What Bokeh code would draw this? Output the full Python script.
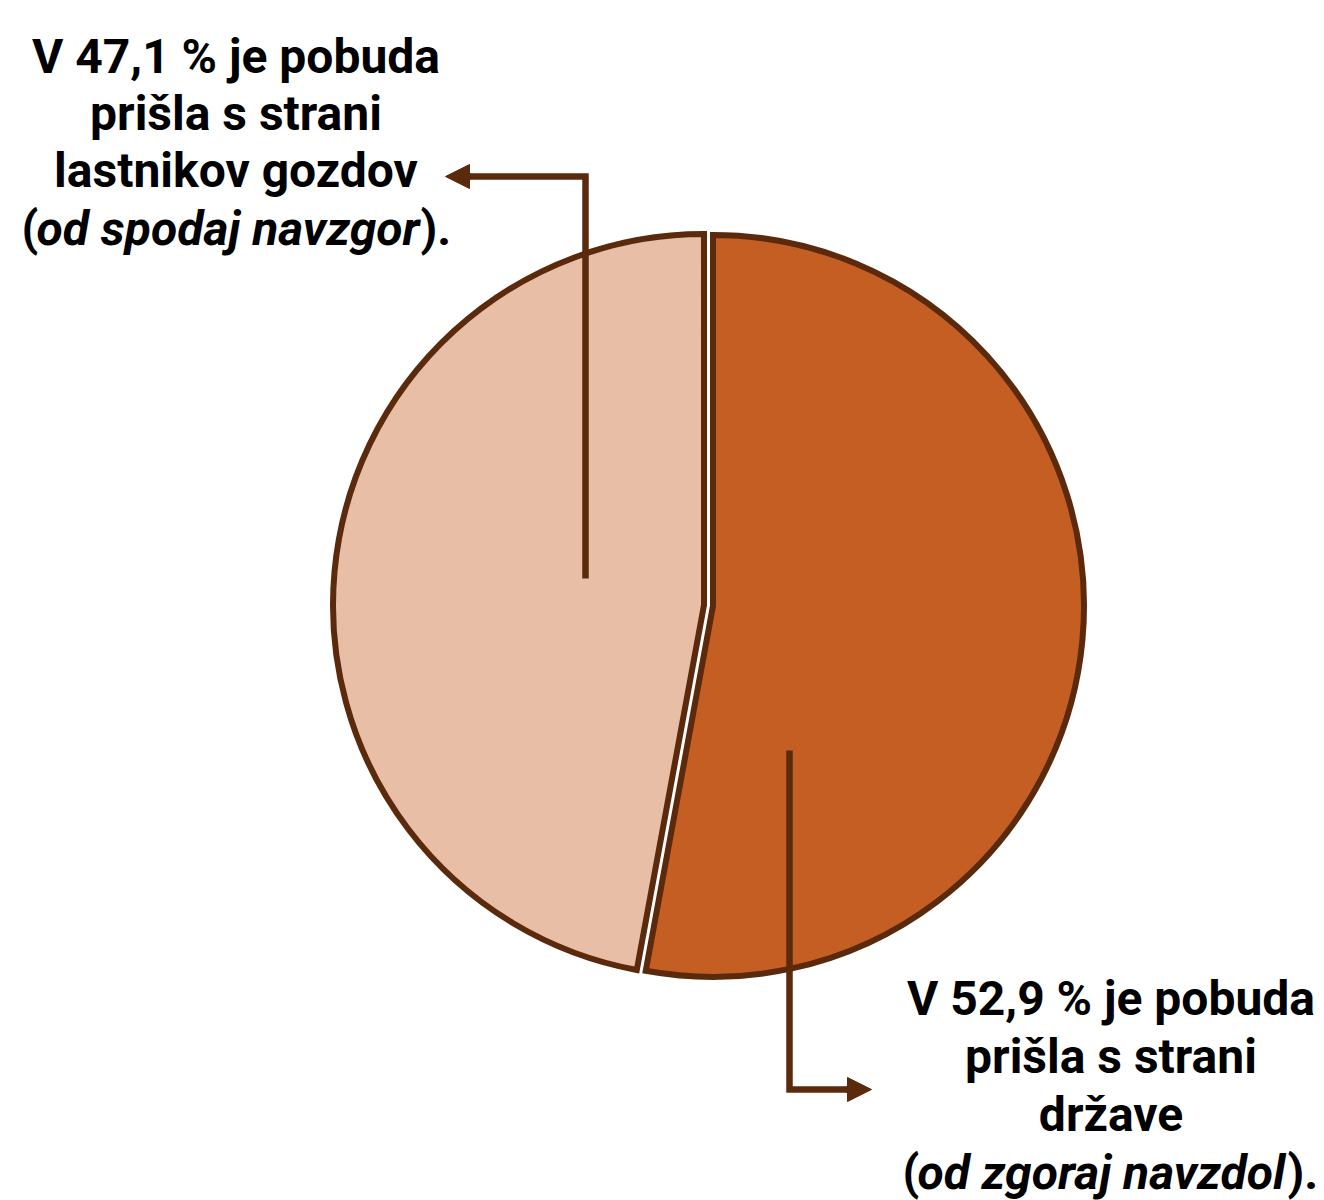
import math
from bokeh.plotting import figure
from bokeh.models import Range1d, Arrow, NormalHead
from bokeh.core.properties import value
from bokeh.embed import file_html
from bokeh.resources import INLINE

# ---- data ----
categories = ["država (od zgoraj navzdol)", "lastniki gozdov (od spodaj navzgor)"]
shares = [52.9, 47.1]
fill_colors = ["#C55E22", "#E8BEA6"]
label_state = ["prišla s strani", "države"]
label_owners = ["prišla s strani", "lastnikov gozdov"]
italic_state = "od zgoraj navzdol"
italic_owners = "od spodaj navzgor"

BROWN = "#5B2A0C"
W, H = 1324, 1200


def sx(x):  # picture x -> data x
    return x


def sy(y):  # picture y -> data y
    return H - y


p = figure(width=W, height=H, output_backend="svg", toolbar_location=None,
           x_range=Range1d(0, W), y_range=Range1d(0, H), min_border=0,
           x_axis_type=None, y_axis_type=None)
p.grid.visible = False
p.outline_line_color = None
p.background_fill_color = "white"

# ---- pie ----
cx, cy, R, explode = sx(708), sy(605), 371, 4.5
total = sum(shares)
start = 90.0
for share, col in zip(shares, fill_colors):
    sweep = 360.0 * share / total
    end = start - sweep
    mid = math.radians((start + end) / 2)
    ox, oy = explode * math.cos(mid), explode * math.sin(mid)
    p.wedge(x=[cx + ox], y=[cy + oy], radius=R, start_angle=start, end_angle=end,
            start_angle_units="deg", end_angle_units="deg", direction="clock",
            fill_color=col, line_color=BROWN, line_width=6, line_join="miter")
    start = end

# ---- leader arrows ----
LW = 6.5
p.line(x=[sx(585), sx(585), sx(460)], y=[sy(578), sy(176), sy(176)],
       line_color=BROWN, line_width=LW, line_join="miter", line_cap="butt")
p.add_layout(Arrow(end=NormalHead(size=24, fill_color=BROWN, line_color=BROWN, line_width=1),
                   x_start=sx(470), y_start=sy(176), x_end=sx(445), y_end=sy(176),
                   line_color=BROWN, line_width=LW))
p.line(x=[sx(789), sx(789), sx(855)], y=[sy(750), sy(1089), sy(1089)],
       line_color=BROWN, line_width=LW, line_join="miter", line_cap="butt")
p.add_layout(Arrow(end=NormalHead(size=24, fill_color=BROWN, line_color=BROWN, line_width=1),
                   x_start=sx(845), y_start=sy(1089), x_end=sx(871), y_end=sy(1089),
                   line_color=BROWN, line_width=LW))

# ---- labels ----
FS = "48px"
FONT = value("Roboto")
BASE_FIX = 17  # renderer places alphabetic baseline lower than requested


def pct(v):
    return f"{v:.1f}".replace(".", ",")


def block(center_x, baselines, lines, paren_x, italic_x, close_x, italic_text):
    for yb, t in zip(baselines, lines):
        p.text(x=[sx(center_x)], y=[sy(yb - BASE_FIX)], text=[t], text_font=FONT,
               text_font_style="bold", text_font_size=FS, text_align="center",
               text_baseline="alphabetic", text_color="#000000")
    yb = baselines[-1] + (baselines[-1] - baselines[-2]) - BASE_FIX
    p.text(x=[sx(paren_x)], y=[sy(yb)], text=["("], text_font=FONT, text_font_style="bold",
           text_font_size=FS, text_align="left", text_baseline="alphabetic", text_color="#000000")
    p.text(x=[sx(italic_x)], y=[sy(yb)], text=[italic_text], text_font=FONT,
           text_font_style="bold italic", text_font_size=FS, text_align="left",
           text_baseline="alphabetic", text_color="#000000")
    p.text(x=[sx(close_x)], y=[sy(yb)], text=[")."], text_font=FONT, text_font_style="bold",
           text_font_size=FS, text_align="left", text_baseline="alphabetic", text_color="#000000")


block(235.5, [72.7, 130.0, 187.3],
      [f"V {pct(shares[1])} % je pobuda"] + label_owners,
      21, 36, 420, italic_owners)
block(1110.5, [1015, 1073, 1131],
      [f"V {pct(shares[0])} % je pobuda"] + label_state,
      902, 917, 1287, italic_state)

open("out.html", "w").write(file_html(p, INLINE))
